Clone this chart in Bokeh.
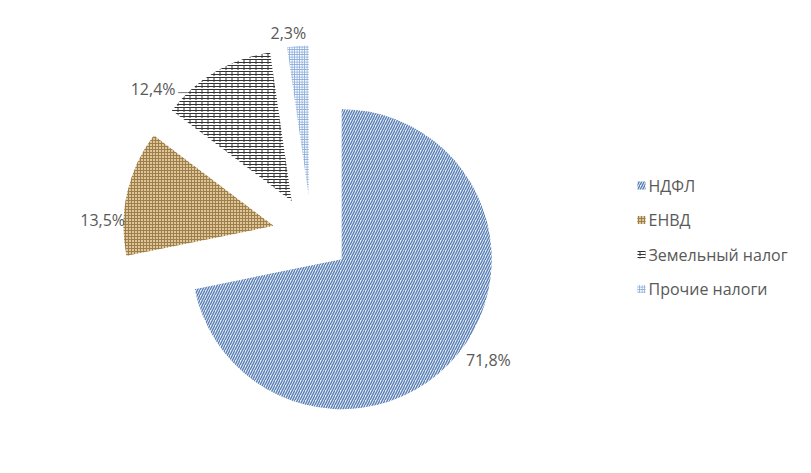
import math
from bokeh.plotting import figure
from bokeh.models import Range1d
from bokeh.core.properties import value
from bokeh.embed import file_html
from bokeh.resources import INLINE

# ---- data ----
categories = ["НДФЛ", "ЕНВД", "Земельный налог", "Прочие налоги"]
shares = [71.8, 13.5, 12.4, 2.3]
labels = ["71,8%", "13,5%", "12,4%", "2,3%"]

# ---- styles ----
W, H = 795, 457
CX, CY = 311, 223          # pie centre (data = screen px, y up)
R = 150
EXPLODE = 39
LABEL_R = R + 20
label_nudge = [(15, 7), (-5, -32), (-52, -34), (-8, -7)]
styles = [
    dict(fill_color="#e8eff8", hatch_pattern="/", hatch_color="#5a7fb4", hatch_scale=5, hatch_weight=1.4),
    dict(fill_color="#dcc69a", hatch_pattern="+", hatch_color="#9e7e4a", hatch_scale=3, hatch_weight=1),
    dict(fill_color="white", hatch_pattern="-", hatch_color="#333333", hatch_scale=3, hatch_weight=1),
    dict(fill_color="white", hatch_pattern="+", hatch_color="#8aacdb", hatch_scale=2.5, hatch_weight=1),
]
overlay = {2: dict(hatch_pattern=":", hatch_color="#333333", hatch_scale=6, hatch_weight=1)}
TEXT_COLOR = "#595959"
FONT = "Open Sans"

p = figure(width=W, height=H, x_range=Range1d(0, W), y_range=Range1d(0, H),
           output_backend="svg", toolbar_location=None, min_border=0)
p.axis.visible = False
p.grid.visible = False
p.outline_line_color = None
p.background_fill_color = "white"
p.border_fill_color = "white"

cum = 0.0
for i, s in enumerate(shares):
    t1 = cum / 100 * 2 * math.pi
    t2 = (cum + s) / 100 * 2 * math.pi
    mid = (t1 + t2) / 2
    ax = CX + EXPLODE * math.sin(mid)
    ay = CY + EXPLODE * math.cos(mid)
    p.wedge(x=[ax], y=[ay], radius=R, start_angle=math.pi / 2 - t1,
            end_angle=math.pi / 2 - t2, direction="clock", line_color=None,
            **styles[i])
    if i in overlay:
        p.wedge(x=[ax], y=[ay], radius=R, start_angle=math.pi / 2 - t1,
                end_angle=math.pi / 2 - t2, direction="clock", line_color=None,
                fill_alpha=0, **overlay[i])
    lx = ax + LABEL_R * math.sin(mid) + label_nudge[i][0]
    ly = ay + LABEL_R * math.cos(mid) + label_nudge[i][1]
    p.text(x=[lx], y=[ly], text=[labels[i]], text_align="center",
           text_baseline="middle", text_font=value(FONT), text_font_size="16px",
           text_color=TEXT_COLOR)
    if i == 2:
        # leader line from label to the arc, roughly horizontal at baseline
        ty = ly - 4
        ang = 2 * math.pi - math.acos((ty - ay) / R)
        ex = ax + R * math.sin(ang)
        ey = ay + R * math.cos(ang)
        p.line(x=[lx + 25, ex], y=[ty, ey], line_color="#777777", line_width=1)
    cum += s

# ---- legend ----
LEG_X, LEG_Y0, LEG_DY = 641, 280, -34.5
for i, name in enumerate(categories):
    yy = LEG_Y0 - 8 + i * LEG_DY
    p.rect(x=[LEG_X], y=[yy], width=8, height=8, line_color=None, **styles[i])
    if i in overlay:
        p.rect(x=[LEG_X], y=[yy], width=8, height=8, line_color=None,
               fill_alpha=0, **overlay[i])
    p.text(x=[LEG_X + 7], y=[yy], text=[name], text_align="left",
           text_baseline="middle", text_font=value(FONT), text_font_size="16px",
           text_color=TEXT_COLOR)

open("out.html", "w").write(file_html(p, INLINE))
